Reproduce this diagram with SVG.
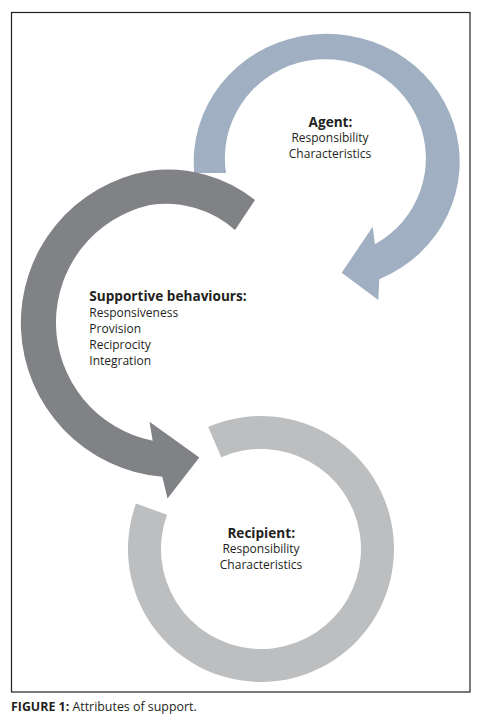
<svg xmlns="http://www.w3.org/2000/svg" width="482" height="727" viewBox="0 0 482 727">
<style>
.t{font-family:"Open Sans","Liberation Sans",sans-serif;fill:#231f20;font-size:12px}
.b{font-weight:bold;font-size:13.6px}
.c{text-anchor:middle}
.cap{font-size:12.4px}
</style>
<rect x="0" y="0" width="482" height="727" fill="#ffffff"/>
<rect x="11.5" y="12.5" width="458.5" height="679.5" fill="none" stroke="#231f20" stroke-width="1.2"/>
<g id="connectors">
<path id="arrow-agent" fill="#a0afc1" d="M 194.2 173 A 133 128 0 1 1 379.3 279.3 L 378.3 300 L 341.7 272.7 L 372.7 226.7 L 375 244.3 A 100.5 99 0 1 0 226 173 Z"/>
<path id="arrow-behaviours" fill="#808285" d="M 255 200 A 140 140 0 0 0 150 170.7 A 154.3 154.3 0 0 0 162.3 476.7 L 167.5 498.5 L 199.3 457.5 L 149.5 421.7 L 152.7 440.7 A 120.5 120.5 0 0 1 150 205 A 105 105 0 0 1 235 230 Z"/>
<path id="arrow-recipient" fill="#bcbec0" d="M 208.2 426.9 A 133 133 0 1 1 136 503.5 L 167 514.8 A 100 100 0 1 0 221.3 457.2 Z"/>
</g>
<g id="node-agent">
<text class="t b c" x="330.5" y="126.7">Agent:</text>
<text class="t c" x="330" y="142.3">Responsibility</text>
<text class="t c" x="330" y="158">Characteristics</text>
</g>
<g id="node-behaviours">
<text class="t b" x="89.3" y="300.7">Supportive behaviours:</text>
<text class="t" x="89.3" y="316.7">Responsiveness</text>
<text class="t" x="89.3" y="332.7">Provision</text>
<text class="t" x="89.3" y="348.7">Reciprocity</text>
<text class="t" x="89.3" y="364.5">Integration</text>
</g>
<g id="node-recipient">
<text class="t b c" x="261.2" y="537.7">Recipient:</text>
<text class="t c" x="261" y="553.3">Responsibility</text>
<text class="t c" x="261" y="569">Characteristics</text>
</g>
<g id="caption">
<text class="t cap" x="11" y="710.7"><tspan font-weight="bold">FIGURE 1:</tspan> Attributes of support.</text>
</g>
</svg>
